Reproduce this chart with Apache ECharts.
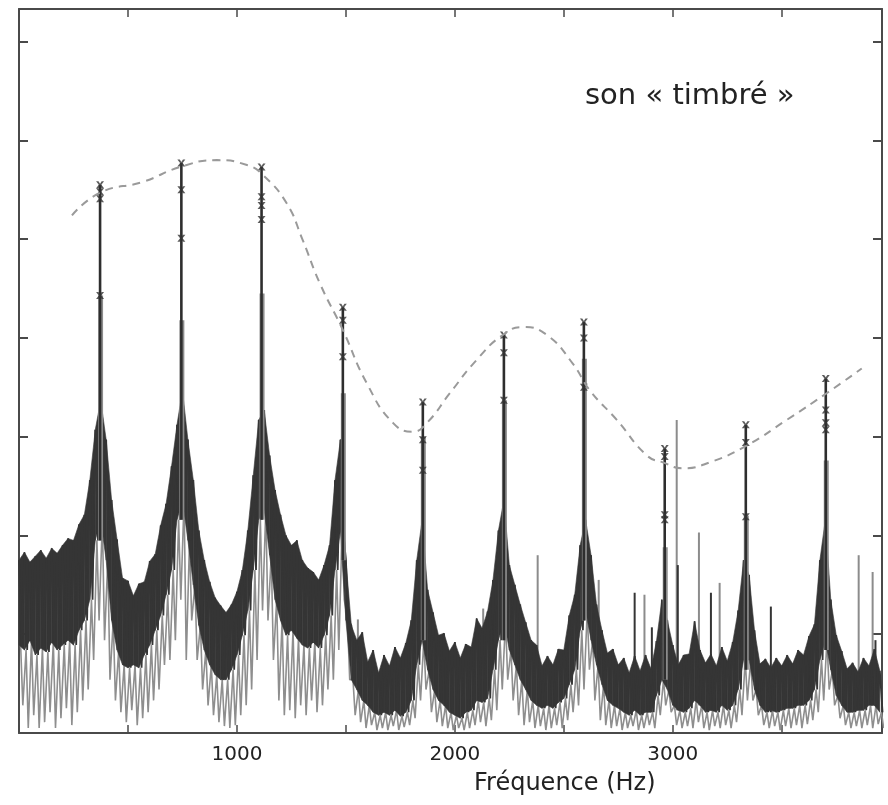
<!DOCTYPE html>
<html><head><meta charset="utf-8">
<script src="https://cdn.jsdelivr.net/npm/echarts/dist/echarts.min.js"></script>
<style>html,body{margin:0;padding:0;background:#fff}#chart{width:888px;height:805px}</style>
</head><body><div id="chart"></div>
<script>
// ---- data ----
const STEP = 25; // Hz between spectrum samples
const noiseTop = [
17.5,18.3,17.3,17.9,18.5,17.7,18.7,18.2,19.0,19.7,
19.5,21.1,22.1,25.6,30.7,33.7,29.7,23.6,19.6,15.7,
15.4,13.9,15.1,15.3,17.4,18.1,21.0,23.2,27.0,31.2,
34.7,29.7,25.6,20.5,17.5,15.3,13.7,12.9,12.2,13.0,
14.3,16.5,20.5,26.1,31.7,32.7,28.1,24.6,22.1,20.0,
19.0,19.5,17.5,16.7,16.3,15.5,17.0,19.0,25.6,29.7,
17.5,10.9,9.4,10.2,7.2,8.4,6.1,7.9,6.8,8.7,
7.6,9.1,11.4,17.5,21.6,14.5,12.2,9.9,10.1,8.3,
9.2,7.6,9.0,8.7,11.6,10.6,12.3,15.5,20.5,23.6,
17.0,15.0,13.0,11.2,9.4,8.9,6.8,7.8,6.9,8.5,
8.4,11.9,14.0,19.0,21.6,18.0,13.0,10.4,8.1,8.5,
6.9,7.6,6.1,7.8,6.3,7.9,6.5,9.3,13.5,11.4,
8.9,6.9,7.9,8.0,11.3,8.4,7.1,8.0,6.8,8.7,
7.3,9.2,12.4,17.5,16.0,10.4,7.0,7.5,6.6,7.6,
6.8,7.9,7.0,8.4,7.9,9.8,11.0,17.5,21.6,13.5,
9.9,8.3,6.5,7.1,6.2,7.6,6.8,8.5,6.3
];
const noiseBottom = [
8.9,8.4,9.4,7.9,8.6,8.2,9.2,8.4,8.9,9.4,
8.9,10.4,11.4,13.5,19.5,21.6,17.5,11.4,8.4,6.9,
6.6,6.9,6.6,7.9,8.9,10.4,11.9,14.0,16.5,21.6,
23.6,19.5,15.0,10.9,8.4,6.9,5.9,5.4,5.4,6.4,
7.9,9.9,12.4,16.5,21.6,22.6,18.0,13.5,11.4,9.9,
10.4,9.6,8.9,8.6,9.2,8.6,9.9,11.9,16.5,20.5,
11.4,5.4,4.4,3.3,2.8,2.1,1.8,2.1,1.8,2.3,
1.7,2.1,3.3,6.9,9.4,6.4,4.4,3.3,2.8,2.1,
1.8,1.5,2.1,2.3,3.3,3.1,3.5,6.4,9.4,11.4,
8.4,6.9,5.4,4.4,3.3,2.8,2.5,2.8,2.5,3.1,
3.5,4.9,6.4,10.4,12.4,9.4,6.9,4.9,3.3,2.8,
2.5,2.1,1.8,2.3,1.8,2.1,2.1,3.8,5.4,4.4,
2.8,2.3,2.1,2.5,3.3,2.8,2.1,2.3,2.1,2.8,
2.3,2.8,4.4,7.4,7.4,4.4,2.8,2.1,2.3,2.1,
2.3,2.5,2.5,2.8,2.8,3.3,4.4,7.4,9.4,6.4,
3.8,2.8,2.1,2.1,2.3,2.3,2.8,2.8,2.1
];
const noiseDip = [
2.8,0.5,1.8,0.5,1.1,2.1,0.5,1.5,2.5,0.8,
2.1,3.3,4.4,7.4,11.4,9.4,5.4,3.3,2.1,1.1,
2.3,0.8,1.5,2.1,3.3,4.4,6.9,7.4,9.4,13.5,
7.4,11.4,7.4,4.4,2.8,1.8,1.1,0.7,0.5,0.8,
1.8,2.8,4.4,7.4,12.4,11.4,7.4,3.3,1.8,2.3,
1.5,2.8,1.8,3.3,2.1,2.8,4.4,5.4,8.4,13.5,
5.4,1.8,1.1,0.5,0.8,0.3,0.5,0.3,0.7,0.3,
0.6,0.8,1.5,3.3,4.4,2.1,1.1,0.7,0.5,0.3,
0.5,0.3,0.5,0.8,1.1,0.7,1.3,2.3,4.4,5.4,
3.3,1.8,0.8,1.1,0.5,0.7,0.3,0.5,0.8,0.5,
1.3,2.1,2.8,4.4,6.4,3.3,1.3,0.8,0.5,0.7,
0.3,0.5,0.7,0.3,0.5,0.8,0.5,1.8,2.8,2.1,
0.8,0.5,0.7,0.5,1.1,0.5,0.3,0.7,0.5,0.8,
0.5,1.1,1.8,3.3,3.3,1.8,0.8,0.5,0.7,0.3,
0.7,0.5,0.8,0.5,0.9,1.3,2.1,3.3,4.4,2.8,
1.5,0.8,0.5,0.7,0.5,0.8,0.5,0.9,0.5
];
// harmonic peaks
const peakFreqs = [372, 745, 1113, 1486, 1853, 2225, 2592, 2963, 3335, 3702];
const peakTops  = [55.5, 57.7, 57.3, 43.1, 33.5, 40.3, 41.6, 28.8, 31.2, 35.9];
const peakBases = [19.5, 21.6, 21.6, 17.5, 9.4, 9.4, 11.4, 5.4, 6.4, 8.4];
const peakGrayTops = [44.3, 41.8, 44.5, 34.4, 30.0, 33.7, 37.9, 18.8, 22.0, 27.6];
const peakMarks = [
  [55.5, 54.8, 54.1, 44.3],
  [57.7, 55.0, 50.1],
  [57.3, 54.3, 53.4, 52.0],
  [43.1, 41.8, 38.1],
  [33.5, 29.7, 26.6],
  [40.3, 38.5, 33.7],
  [41.6, 40.0, 35.0],
  [28.8, 28.0, 22.1, 21.6],
  [31.2, 29.4, 21.9],
  [35.9, 32.7, 31.4, 30.7]
];
// isolated spikes
const graySpikeFreqs = [1555, 2130, 2380, 2660, 2870, 3018, 3120, 3215, 3853, 3917];
const graySpikeTops  = [11.5, 12.6, 18.0, 15.5, 14.0, 31.7, 20.3, 15.2, 18.0, 16.3];
const graySpikeBases = [4.4, 3.3, 2.8, 6.9, 2.1, 2.3, 2.8, 2.8, 2.3, 2.8];
const darkSpikeFreqs = [2825, 2904, 3023, 3175, 3450, 3930];
const darkSpikeTops  = [14.2, 10.7, 17.0, 14.2, 12.8, 9.4];
const darkSpikeBases = [2.3, 2.1, 2.3, 2.3, 2.1, 2.8];
// dashed spectral envelope
const envFreqs = [243,372,569,739,908,1046,1119,1229,1300,1381,1486,1596,1716,1807,1872,1977,2101,2220,2312,2422,2541,2619,2743,2881,2954,3046,3170,3339,3523,3706,3867];
const envValues = [52.4,54.7,55.8,57.3,58.0,57.5,56.5,53.6,50.0,45.5,40.8,35.4,31.4,30.5,31.4,34.4,37.8,40.3,41.1,40.3,37.4,34.7,31.7,28.1,27.4,26.8,27.4,29.1,31.7,34.4,36.9];
// axis ticks
const xTickLabels = [1000, 2000, 3000];
const X_MAX = 3960, Y_MAX = 73.3;

// ---- build series data ----
const freqs = noiseTop.map((_, i) => i * STEP);
const bandRows = [];
for (let i = 0; i + 1 < freqs.length; i++) {
  bandRows.push([freqs[i], noiseTop[i], noiseBottom[i], freqs[i + 1], noiseTop[i + 1], noiseBottom[i + 1]]);
}
const darkLine = [], grayLine = [];
freqs.forEach((f, i) => {
  darkLine.push([f, noiseTop[i]]);
  darkLine.push([f + STEP / 2, noiseBottom[i]]);
  grayLine.push([f + STEP * 0.3, noiseBottom[i]]);
  grayLine.push([f + STEP * 0.7, noiseDip[i]]);
});
const peakRows = peakFreqs.map((f, i) => [f, peakBases[i], peakTops[i]]);
const peakGrayRows = peakFreqs.map((f, i) => [f, peakBases[i], peakGrayTops[i]]);
const graySpikeRows = graySpikeFreqs.map((f, i) => [f, graySpikeBases[i], graySpikeTops[i]]);
const darkSpikeRows = darkSpikeFreqs.map((f, i) => [f, darkSpikeBases[i], darkSpikeTops[i]]);
const markRows = [];
peakMarks.forEach((lv, i) => lv.forEach(v => markRows.push([peakFreqs[i], v])));
const envData = envFreqs.map((f, i) => [f, envValues[i]]);

function segRenderer(color, width, dx) {
  return function (params, api) {
    const p0 = api.coord([api.value(0), api.value(1)]);
    const p1 = api.coord([api.value(0), api.value(2)]);
    return {
      type: 'line',
      shape: { x1: p0[0] + dx, y1: p0[1], x2: p1[0] + dx, y2: p1[1] },
      style: { stroke: color, lineWidth: width }
    };
  };
}
function bandRenderer(color) {
  return function (params, api) {
    const a = api.coord([api.value(0), api.value(1)]);
    const b = api.coord([api.value(3), api.value(4)]);
    const c = api.coord([api.value(3), api.value(5)]);
    const d = api.coord([api.value(0), api.value(2)]);
    return {
      type: 'polygon',
      shape: { points: [a, b, c, d] },
      style: { fill: color, stroke: color, lineWidth: 0.6 }
    };
  };
}

const FONT = '"DejaVu Sans", sans-serif';
const AXC = '#4a4a4a';
const DARK = '#353535';
const baseX = {
  type: 'value', min: 0, max: X_MAX, interval: 500,
  axisLine: { show: true, onZero: false, lineStyle: { color: AXC, width: 2 } },
  axisTick: { show: true, inside: true, length: 8, lineStyle: { color: AXC, width: 1.5 } },
  splitLine: { show: false }
};
const baseY = {
  type: 'value', min: 0, max: Y_MAX, interval: 10,
  axisLine: { show: true, onZero: false, lineStyle: { color: AXC, width: 2 } },
  axisTick: { show: true, inside: true, length: 9, lineStyle: { color: AXC, width: 2 } },
  axisLabel: { show: false },
  splitLine: { show: false }
};

const chart = echarts.init(document.getElementById('chart'), null, { renderer: 'canvas' });
chart.setOption({
  animation: false,
  backgroundColor: '#fff',
  grid: { left: 19, right: 6, top: 9, bottom: 72, containLabel: false },
  xAxis: [
    Object.assign({}, baseX, {
      position: 'bottom',
      axisLabel: {
        show: true, margin: 12, fontSize: 20, fontFamily: FONT, color: '#222',
        formatter: v => (xTickLabels.indexOf(v) >= 0 ? String(v) : '')
      }
    }),
    Object.assign({}, baseX, { position: 'top', axisLabel: { show: false } })
  ],
  yAxis: [
    Object.assign({}, baseY, { position: 'left' }),
    Object.assign({}, baseY, { position: 'right' })
  ],
  graphic: [
    { type: 'text', left: 585, top: 82, style: { text: 'son « timbré »', fontSize: 29, fontFamily: FONT, fill: '#222' } },
    { type: 'text', left: 474, top: 772, style: { text: 'Fréquence (Hz)', fontSize: 24, fontFamily: FONT, fill: '#222' } }
  ],
  series: [
    { type: 'line', data: grayLine, showSymbol: false, symbol: 'none', z: 1,
      lineStyle: { color: '#8e8e8e', width: 1.6 } },
    { type: 'custom', data: graySpikeRows, encode: { x: 0, y: [1, 2] }, z: 2,
      renderItem: segRenderer('#8c8c8c', 2, 0) },
    { type: 'custom', data: bandRows, encode: { x: [0, 3], y: [1, 2, 4, 5] }, z: 3,
      renderItem: bandRenderer(DARK) },
    { type: 'line', data: darkLine, showSymbol: false, symbol: 'none', z: 4,
      lineStyle: { color: DARK, width: 1.8 } },
    { type: 'custom', data: darkSpikeRows, encode: { x: 0, y: [1, 2] }, z: 4,
      renderItem: segRenderer(DARK, 2, 0) },
    { type: 'custom', data: peakGrayRows, encode: { x: 0, y: [1, 2] }, z: 5,
      renderItem: segRenderer('#8c8c8c', 5, 0.5) },
    { type: 'custom', data: peakRows, encode: { x: 0, y: [1, 2] }, z: 6,
      renderItem: segRenderer('#2e2e2e', 2.6, 0) },
    { type: 'scatter', data: markRows, z: 7,
      symbol: 'path://M0,0L3,0L5,3.5L7,0L10,0L6.6,5L10,10L7,10L5,6.5L3,10L0,10L3.4,5Z',
      symbolSize: [8, 7], itemStyle: { color: '#333' } },
    { type: 'line', data: envData, smooth: 0.5, showSymbol: false, symbol: 'none', z: 8,
      lineStyle: { color: '#9a9a9a', width: 2, type: [8, 6] } }
  ]
});
</script></body></html>
